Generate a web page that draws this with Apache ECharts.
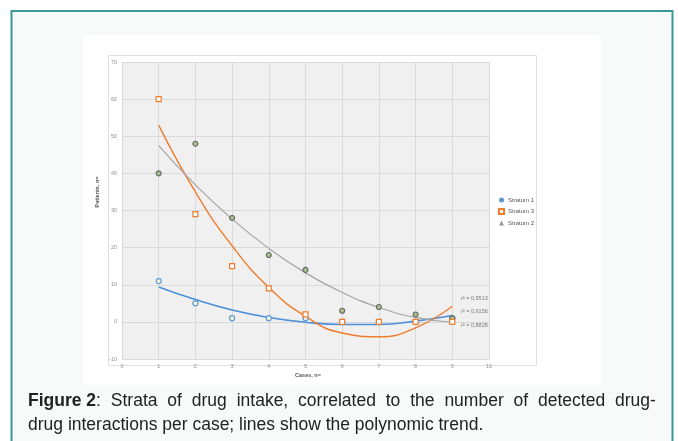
<!DOCTYPE html>
<html><head><meta charset="utf-8">
<script src="https://cdn.jsdelivr.net/npm/echarts@6/dist/echarts.min.js"></script>
<style>
html,body{margin:0;padding:0;background:#fff}
#wrap{position:relative;width:678px;height:441px;overflow:hidden}
#c{width:678px;height:441px}
#cap{position:absolute;left:28px;top:388px;width:628px;font-family:'Liberation Sans',Arial,sans-serif;
     font-size:17.5px;line-height:24px;color:#222}
#cap .l1{white-space:nowrap;display:flex;justify-content:space-between}
#cap b{font-weight:bold}
</style>
</head><body><div id="wrap"><div id="c"></div>
<div id="cap"><div class="l1"></div><div class="l2"></div></div></div>
<script>
// Data
const cases = [1, 2, 3, 4, 5, 6, 7, 8, 9];
const stratum1 = [11, 5, 1, 1, 1, 0, 0, 0, 1];
const stratum3 = [60, 29, 15, 9, 2, 0, 0, 0, 0];
const stratum2 = [40, 48, 28, 18, 14, 3, 4, 2, 1];
// polynomial trend lines (values read at each case)
const trend1 = [9.4, 6.0, 3.2, 1.2, -0.1, -0.7, -0.7, 0.2, 1.7];
const trend3 = [53.0, 35.0, 20.5, 9.3, 1.5, -3.0, -4.0, -1.6, 4.2];
const trend2 = [47.5, 36.9, 27.7, 19.8, 13.2, 7.9, 3.9, 1.2, -0.1];
const r2Labels = ['r² = 0,9513', 'r² = 0,9156', 'r² = 0,8828'];
const xTicks = [0, 10, 1];   // min, max, interval
const yTicks = [-10, 70, 10];
const captionLine1 = ['Figure 2:', 'Strata', 'of', 'drug', 'intake,', 'correlated', 'to', 'the', 'number', 'of', 'detected', 'drug-'];
const captionLine2 = 'drug interactions per case; lines show the polynomic trend.';

// caption (justified first line, word by word)
const l1 = document.querySelector('#cap .l1');
captionLine1.forEach((w, i) => {
  const s = document.createElement('span');
  if (i === 0) { s.innerHTML = '<b>Figure 2</b>:'; } else { s.textContent = w; }
  l1.appendChild(s);
});
document.querySelector('#cap .l2').textContent = captionLine2;

const pairs = (xs, ys) => xs.map((x, i) => [x, ys[i]]);
const chart = echarts.init(document.getElementById('c'));
const tickFont = {fontSize: 5.5, color: '#8f8f8f', fontFamily: 'Liberation Sans'};
chart.setOption({
  animation: false,
  backgroundColor: '#ffffff',
  graphic: [
    {type: 'rect', z: -10, shape: {x: 11.5, y: 11, width: 661, height: 440},
     style: {fill: '#f8fafa', stroke: '#3a9994', lineWidth: 2}},
    {type: 'rect', z: -9, shape: {x: 83, y: 35, width: 518, height: 350},
     style: {fill: '#ffffff'}},
    {type: 'rect', z: -8, shape: {x: 108.5, y: 55.5, width: 428, height: 310},
     style: {fill: '#ffffff', stroke: '#e0e0e0', lineWidth: 1}},
    {type: 'text', x: 97, y: 192, rotation: Math.PI / 2,
     style: {text: 'Patients, n=', fontSize: 5.5, fontWeight: 'bold', fill: '#555',
             align: 'center', verticalAlign: 'middle', fontFamily: 'Liberation Sans'}},
    {type: 'text', x: 308, y: 375,
     style: {text: 'Cases, n=', fontSize: 5.5, fontWeight: 'bold', fill: '#555',
             align: 'center', verticalAlign: 'middle', fontFamily: 'Liberation Sans'}},
    {type: 'text', x: 461, y: 298.5,
     style: {text: r2Labels[0], fontSize: 5.5, fill: '#777', verticalAlign: 'middle', fontFamily: 'Liberation Sans'}},
    {type: 'text', x: 461, y: 311.5,
     style: {text: r2Labels[1], fontSize: 5.5, fill: '#777', verticalAlign: 'middle', fontFamily: 'Liberation Sans'}},
    {type: 'text', x: 461, y: 325,
     style: {text: r2Labels[2], fontSize: 5.5, fill: '#777', verticalAlign: 'middle', fontFamily: 'Liberation Sans'}}
  ],
  grid: {left: 122, top: 62, width: 367, height: 297, show: true,
         backgroundColor: '#f0f0f0', borderWidth: 0, containLabel: false},
  legend: {
    orient: 'vertical', left: 498, top: 197, padding: 0, itemGap: 5, itemWidth: 5, itemHeight: 5,
    textStyle: {fontSize: 6, color: '#555', fontFamily: 'Liberation Sans', padding: [0, 0, 0, -1]},
    data: [
      {name: 'Stratum 1', icon: 'circle', itemStyle: {color: '#5b9bd5', borderWidth: 0}},
      {name: 'Stratum 3', icon: 'rect'},
      {name: 'Stratum 2', icon: 'triangle', itemStyle: {color: '#9a9a9a', borderWidth: 0}}
    ]
  },
  xAxis: {
    type: 'value', min: xTicks[0], max: xTicks[1], interval: xTicks[2],
    axisLine: {show: true, onZero: true, lineStyle: {color: '#d8d8d8'}},
    axisTick: {show: false},
    axisLabel: Object.assign({margin: 4}, tickFont),
    splitLine: {show: true, lineStyle: {color: '#dadada', width: 1}}
  },
  yAxis: {
    type: 'value', min: yTicks[0], max: yTicks[1], interval: yTicks[2],
    axisLine: {show: false}, axisTick: {show: false},
    axisLabel: Object.assign({margin: 5}, tickFont),
    splitLine: {show: true, lineStyle: {color: '#dadada', width: 1}}
  },
  series: [
    {name: 'trend1', type: 'line', data: pairs(cases, trend1), smooth: true, showSymbol: false,
     lineStyle: {color: '#4a8fdc', width: 1.6}, z: 3},
    {name: 'trend3', type: 'line', data: pairs(cases, trend3), smooth: true, showSymbol: false,
     lineStyle: {color: '#f07c2c', width: 1.4}, z: 3},
    {name: 'trend2', type: 'line', data: pairs(cases, trend2), smooth: true, showSymbol: false,
     lineStyle: {color: '#a5a5a5', width: 1.2}, z: 3},
    {name: 'Stratum 1', type: 'scatter', data: pairs(cases, stratum1), symbol: 'circle', symbolSize: 5,
     itemStyle: {color: '#fdf6d8', borderColor: '#5b9bd5', borderWidth: 1.2, opacity: 1}, z: 5},
    {name: 'Stratum 2', type: 'scatter', data: pairs(cases, stratum2), symbol: 'circle', symbolSize: 5,
     itemStyle: {color: '#a8c08c', borderColor: '#666666', borderWidth: 1.1, opacity: 1}, z: 5},
    {name: 'Stratum 3', type: 'scatter', data: pairs(cases, stratum3), symbol: 'rect', symbolSize: 5,
     itemStyle: {color: '#ffffff', borderColor: '#f07c2c', borderWidth: 1.2, opacity: 1}, z: 6}
  ]
});
</script></body></html>
